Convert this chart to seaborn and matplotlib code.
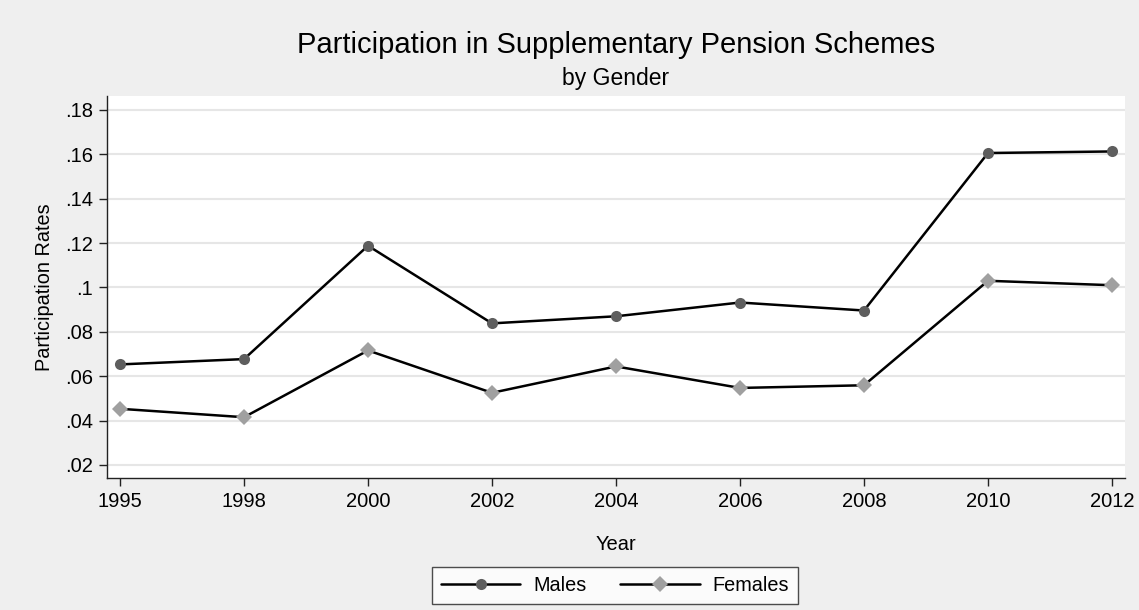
import numpy as np
import pandas as pd
import seaborn as sns
import matplotlib.pyplot as plt

# dados
years = ["1995", "1998", "2000", "2002", "2004", "2006", "2008", "2010", "2012"]
males = [0.0653, 0.0677, 0.1188, 0.0838, 0.0870, 0.0932, 0.0896, 0.1606, 0.1613]
females = [0.0453, 0.0415, 0.0716, 0.0525, 0.0644, 0.0547, 0.0559, 0.1030, 0.1010]
y_ticks = [0.02, 0.04, 0.06, 0.08, 0.10, 0.12, 0.14, 0.16, 0.18]
y_tick_labels = [".02", ".04", ".06", ".08", ".1", ".12", ".14", ".16", ".18"]

pos = np.arange(len(years))
df = pd.DataFrame({
    "pos": np.concatenate([pos, pos]),
    "rate": males + females,
    "sex": ["Males"] * len(years) + ["Females"] * len(years),
})

sns.set_style("white")
plt.rcParams['font.family'] = ['Liberation Sans', 'DejaVu Sans']
plt.rcParams['text.color'] = 'black'
plt.rcParams['axes.labelcolor'] = 'black'
plt.rcParams['xtick.color'] = 'black'
plt.rcParams['ytick.color'] = 'black'

bg = "#efefef"
fig = plt.figure(figsize=(11.39, 6.10), dpi=100, facecolor=bg)
ax = fig.add_axes([107 / 1139, 1 - 478 / 610, (1125 - 107) / 1139, (478 - 96) / 610])
ax.set_facecolor("white")

sns.lineplot(data=df[df.sex == "Males"], x="pos", y="rate", ax=ax, color="black",
             linewidth=1.8, marker="o", markersize=8, markerfacecolor="#5e5e5e",
             markeredgecolor="#5e5e5e", markeredgewidth=0, label="Males", legend=False)
sns.lineplot(data=df[df.sex == "Females"], x="pos", y="rate", ax=ax, color="black",
             linewidth=1.8, marker="D", markersize=8.5, markerfacecolor="#a0a0a0",
             markeredgecolor="#a0a0a0", markeredgewidth=0, label="Females", legend=False)

ax.set_xlim(-0.105, len(years) - 1 + 0.105)
ax.set_ylim(0.0141, 0.1863)
ax.set_xticks(pos)
ax.set_xticklabels(years)
ax.set_yticks(y_ticks)
ax.set_yticklabels(y_tick_labels)
ax.yaxis.grid(True, color="#e6e6e6", linewidth=1.5)
ax.set_axisbelow(True)

for s in ["top", "right"]:
    ax.spines[s].set_visible(False)
for s in ["left", "bottom"]:
    ax.spines[s].set_color("#222222")
    ax.spines[s].set_linewidth(1.0)
ax.tick_params(axis="both", direction="out", length=6, width=1, color="#222222",
               labelsize=14.5, pad=4, left=True, bottom=True)

ax.set_xlabel("Year", fontsize=14.5, labelpad=17)
ax.set_ylabel("Participation Rates", fontsize=14.3, labelpad=8)

cx = (107 + 1125) / 2 / 1139
fig.text(cx, 1 - 45 / 610, "Participation in Supplementary Pension Schemes",
         ha="center", va="center", fontsize=21)
fig.text(cx, 1 - 78 / 610, "by Gender", ha="center", va="center", fontsize=16.5)

handles, labels = ax.get_legend_handles_labels()
leg = fig.legend(handles, labels, loc="lower center", bbox_to_anchor=(615 / 1139, 6 / 610),
                 ncol=2, frameon=True, fancybox=False, edgecolor="#222222",
                 fontsize=14.3, handlelength=4.0, handletextpad=0.65, columnspacing=1.7,
                 borderpad=0.45, borderaxespad=0, numpoints=1)
leg.get_frame().set_linewidth(1.0)
leg.get_frame().set_facecolor("white")

fig.savefig("out.png", dpi=100, facecolor=bg)
